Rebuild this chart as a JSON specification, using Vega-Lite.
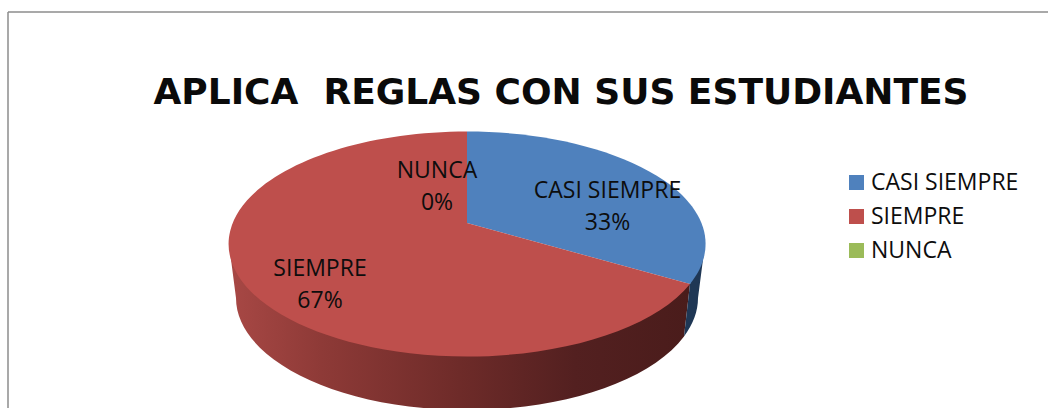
{"$schema":"https://vega.github.io/schema/vega-lite/v6.json","width":1048,"height":408,"autosize":{"type":"fit","contains":"padding"},"padding":0,"background":"white","config":{"view":{"stroke":null}},"data":{"values":[{"categoria":"CASI SIEMPRE","porcentaje":33,"etiqueta":"CASI SIEMPRE\n33%"},{"categoria":"SIEMPRE","porcentaje":67,"etiqueta":"SIEMPRE\n67%"},{"categoria":"NUNCA","porcentaje":0,"etiqueta":"NUNCA\n0%"}]},"layer":[
{"data":{"values":[{"marco":"borde"}]},"mark":{"type":"rule","stroke":"#8c8c8c","strokeWidth":1.5},"encoding":{"x":{"datum":8,"type":"quantitative","scale":{"domain":[0,1048],"range":[0,1048]},"axis":null},"y":{"datum":12,"type":"quantitative","scale":{"domain":[0,408],"range":[0,408]},"axis":null},"y2":{"datum":408}}},
{"data":{"values":[{"marco":"borde"}]},"mark":{"type":"rule","stroke":"#8c8c8c","strokeWidth":1.5},"encoding":{"x":{"datum":8,"type":"quantitative","scale":{"domain":[0,1048],"range":[0,1048]},"axis":null},"x2":{"datum":1048},"y":{"datum":12,"type":"quantitative","scale":{"domain":[0,408],"range":[0,408]},"axis":null}}},
{"data":{"values":[{"titulo":"APLICA \u00a0REGLAS CON SUS ESTUDIANTES"}]},"mark":{"type":"text","font":"DejaVu Sans","fontWeight":"bold","fontSize":36,"align":"center","baseline":"alphabetic","fill":"#0a0a0a"},"encoding":{"x":{"datum":561,"type":"quantitative","scale":{"domain":[0,1048],"range":[0,1048]},"axis":null},"y":{"datum":104,"type":"quantitative","scale":{"domain":[0,408],"range":[0,408]},"axis":null},"text":{"field":"titulo"}}},
{"mark":{"type":"square","size":1,"opacity":1},"encoding":{"x":{"datum":467,"type":"quantitative","scale":{"domain":[0,1048],"range":[0,1048]},"axis":null},"y":{"datum":244,"type":"quantitative","scale":{"domain":[0,408],"range":[0,408]},"axis":null},"color":{"field":"categoria","type":"nominal","sort":["CASI SIEMPRE","SIEMPRE","NUNCA"],"scale":{"domain":["CASI SIEMPRE","SIEMPRE","NUNCA"],"range":["#4f81bd","#be4f4c","#9bbb59"]},"legend":{"title":null,"orient":"none","legendX":845,"legendY":171,"symbolType":"square","symbolSize":225,"symbolStrokeWidth":0,"symbolOpacity":1,"labelFont":"Open Sans","labelFontSize":23,"labelColor":"#0d0d0d","labelOffset":3,"rowPadding":10,"labelLimit":200}}}},
{"transform":[{"filter":"datum.categoria==='SIEMPRE'"}],"mark":{"type":"point","filled":true,"opacity":1,"size":4,"shape":"M-238 0L-231 54A231 112 0 0 0 217 92.4L223 40Z","fill":{"gradient":"linear","x1":0,"x2":1,"y1":0,"y2":0,"stops":[{"offset":0,"color":"#a84845"},{"offset":0.2,"color":"#8e3a37"},{"offset":0.5,"color":"#6e2b29"},{"offset":0.75,"color":"#532020"},{"offset":1,"color":"#4a1c1b"}]}},"encoding":{"x":{"datum":467,"type":"quantitative","scale":{"domain":[0,1048],"range":[0,1048]},"axis":null},"y":{"datum":244,"type":"quantitative","scale":{"domain":[0,408],"range":[0,408]},"axis":null}}},
{"transform":[{"filter":"datum.categoria==='CASI SIEMPRE'"}],"mark":{"type":"point","filled":true,"opacity":1,"size":4,"shape":"M223 40L217 92.4A231 112 0 0 0 231 54L238 0Z","fill":"#1f3755"},"encoding":{"x":{"datum":467,"type":"quantitative","scale":{"domain":[0,1048],"range":[0,1048]},"axis":null},"y":{"datum":244,"type":"quantitative","scale":{"domain":[0,408],"range":[0,408]},"axis":null}}},
{"transform":[{"filter":"datum.categoria==='CASI SIEMPRE'"}],"mark":{"type":"point","filled":true,"opacity":1,"size":4,"shape":"M0 -21L0 -112.5A238.5 112.5 0 0 1 223 40Z"},"encoding":{"x":{"datum":467,"type":"quantitative","scale":{"domain":[0,1048],"range":[0,1048]},"axis":null},"y":{"datum":244,"type":"quantitative","scale":{"domain":[0,408],"range":[0,408]},"axis":null},"color":{"field":"categoria","type":"nominal","legend":null}}},
{"transform":[{"filter":"datum.categoria==='SIEMPRE'"}],"mark":{"type":"point","filled":true,"opacity":1,"size":4,"shape":"M0 -21L223 40A238.5 112.5 0 1 1 0 -112.5Z"},"encoding":{"x":{"datum":467,"type":"quantitative","scale":{"domain":[0,1048],"range":[0,1048]},"axis":null},"y":{"datum":244,"type":"quantitative","scale":{"domain":[0,408],"range":[0,408]},"axis":null},"color":{"field":"categoria","type":"nominal","legend":null}}},
{"transform":[{"filter":"datum.categoria==='CASI SIEMPRE'"}],"mark":{"type":"text","font":"Open Sans","fontSize":23,"align":"center","baseline":"alphabetic","lineBreak":"\n","lineHeight":32,"fill":"#0d0d0d"},"encoding":{"x":{"datum":607.5,"type":"quantitative","scale":{"domain":[0,1048],"range":[0,1048]},"axis":null},"y":{"datum":198,"type":"quantitative","scale":{"domain":[0,408],"range":[0,408]},"axis":null},"text":{"field":"etiqueta"}}},
{"transform":[{"filter":"datum.categoria==='SIEMPRE'"}],"mark":{"type":"text","font":"Open Sans","fontSize":23,"align":"center","baseline":"alphabetic","lineBreak":"\n","lineHeight":32,"fill":"#0d0d0d"},"encoding":{"x":{"datum":320,"type":"quantitative","scale":{"domain":[0,1048],"range":[0,1048]},"axis":null},"y":{"datum":276,"type":"quantitative","scale":{"domain":[0,408],"range":[0,408]},"axis":null},"text":{"field":"etiqueta"}}},
{"transform":[{"filter":"datum.categoria==='NUNCA'"}],"mark":{"type":"text","font":"Open Sans","fontSize":23,"align":"center","baseline":"alphabetic","lineBreak":"\n","lineHeight":32,"fill":"#0d0d0d"},"encoding":{"x":{"datum":437,"type":"quantitative","scale":{"domain":[0,1048],"range":[0,1048]},"axis":null},"y":{"datum":178,"type":"quantitative","scale":{"domain":[0,408],"range":[0,408]},"axis":null},"text":{"field":"etiqueta"}}}
]}
